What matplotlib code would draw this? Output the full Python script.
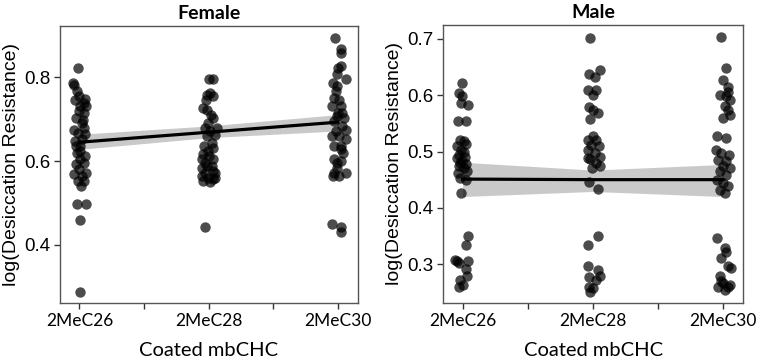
import numpy as np
import matplotlib
matplotlib.use('Agg')
import matplotlib.pyplot as plt

groups = ['2MeC26', '2MeC28', '2MeC30']

# Female: jitter offset from category centre, and log(desiccation resistance)
f26_dx = [-0.013, -0.049, -0.039, -0.021, -0.003, 0.046, 0.034, 0.008, 0.054, -0.005,
          0.034, -0.023, 0.021, 0.039, -0.013, -0.031, 0.021, 0.008, -0.018, 0.046,
          0.008, 0.034, -0.044, -0.005, 0.054, -0.013, 0.021, -0.018, 0.054, 0.008,
          0.008, -0.031, 0.028, -0.039, 0.003, -0.023, 0.039, 0.013, -0.028, 0.046]
f26_y = [0.822, 0.786, 0.783, 0.767, 0.755, 0.749, 0.738, 0.731, 0.731, 0.719,
         0.715, 0.703, 0.691, 0.679, 0.667, 0.648, 0.652, 0.636, 0.620, 0.612,
         0.605, 0.596, 0.568, 0.580, 0.572, 0.552, 0.564, 0.498, 0.498, 0.460,
         0.288, 0.747, 0.699, 0.675, 0.624, 0.592, 0.552, 0.540, 0.636, 0.664]

f28_dx = [0.005, 0.036, 0.010, 0.036, -0.010, -0.041, -0.015, 0.015, 0.036, -0.003,
          -0.028, 0.010, 0.049, -0.015, 0.023, 0.036, -0.003, -0.041, -0.054, 0.036,
          -0.028, -0.054, 0.023, -0.028, 0.036, -0.054, -0.003, 0.049, -0.041, 0.036,
          -0.028, 0.010, -0.015, 0.049, 0.005, -0.036, 0.062, -0.021]
f28_y = [0.797, 0.795, 0.762, 0.755, 0.759, 0.727, 0.722, 0.711, 0.703, 0.691,
         0.679, 0.671, 0.663, 0.659, 0.643, 0.631, 0.624, 0.616, 0.604, 0.604,
         0.596, 0.584, 0.588, 0.572, 0.576, 0.564, 0.560, 0.560, 0.552, 0.556,
         0.442, 0.550, 0.588, 0.572, 0.612, 0.636, 0.679, 0.747]

f30_dx = [-0.026, 0.026, 0.026, 0.021, 0.000, 0.059, -0.005, -0.036, -0.005, -0.018,
          -0.031, 0.008, -0.044, 0.021, 0.046, 0.000, -0.031, 0.034, 0.059, -0.018,
          -0.044, 0.059, 0.021, -0.031, 0.021, -0.031, -0.005, 0.021, 0.059, -0.031,
          -0.036, 0.008, -0.044, 0.021, 0.021, -0.010, 0.034, 0.008, 0.041, -0.005]
f30_y = [0.893, 0.867, 0.859, 0.827, 0.823, 0.797, 0.807, 0.787, 0.779, 0.767,
         0.751, 0.747, 0.731, 0.731, 0.703, 0.715, 0.695, 0.683, 0.675, 0.671,
         0.659, 0.653, 0.636, 0.636, 0.628, 0.604, 0.596, 0.600, 0.572, 0.572,
         0.564, 0.564, 0.450, 0.442, 0.430, 0.707, 0.715, 0.659, 0.620, 0.584]

# Male
m26_dx = [-0.005, -0.031, -0.005, -0.010, 0.041, -0.036, 0.026, -0.018, 0.008, 0.026,
          -0.044, -0.010, -0.031, 0.015, -0.044, -0.005, 0.026, -0.031, 0.008, -0.036,
          0.034, -0.018, 0.026, -0.010, 0.041, 0.026, -0.044, -0.031, 0.041, 0.026,
          0.034, -0.018, 0.000, -0.026, -0.057, 0.008, -0.021]
m26_y = [0.621, 0.604, 0.598, 0.586, 0.583, 0.555, 0.555, 0.521, 0.518, 0.514,
         0.509, 0.503, 0.494, 0.491, 0.488, 0.483, 0.477, 0.474, 0.471, 0.462,
         0.465, 0.453, 0.450, 0.427, 0.350, 0.334, 0.306, 0.302, 0.305, 0.291,
         0.278, 0.272, 0.263, 0.259, 0.307, 0.500, 0.480]

m28_dx = [-0.021, -0.026, 0.013, 0.052, -0.039, 0.026, 0.000, -0.026, 0.000, -0.021,
          0.039, 0.000, -0.039, 0.026, -0.013, 0.046, -0.039, 0.013, 0.052, -0.021,
          0.026, -0.039, 0.052, -0.005, -0.031, 0.039, -0.039, 0.039, -0.039, 0.039,
          -0.026, 0.021, 0.052, -0.031, 0.000, -0.021]
m28_y = [0.702, 0.637, 0.632, 0.645, 0.610, 0.609, 0.601, 0.579, 0.574, 0.558,
         0.568, 0.527, 0.521, 0.521, 0.512, 0.509, 0.503, 0.497, 0.491, 0.487,
         0.480, 0.488, 0.474, 0.471, 0.445, 0.433, 0.334, 0.350, 0.296, 0.290,
         0.277, 0.272, 0.278, 0.259, 0.257, 0.251]

m30_dx = [-0.013, 0.021, 0.000, 0.039, 0.039, -0.026, 0.026, 0.052, 0.013, 0.039,
          0.052, 0.000, -0.046, 0.021, -0.052, -0.013, 0.046, -0.039, 0.026, 0.000,
          0.052, -0.026, 0.021, -0.046, 0.000, 0.039, -0.026, 0.013, -0.046, 0.013,
          0.026, -0.013, 0.039, 0.057, -0.026, 0.000, 0.039, -0.039, 0.013, 0.052,
          -0.013]
m30_y = [0.703, 0.648, 0.627, 0.615, 0.605, 0.601, 0.598, 0.592, 0.581, 0.574,
         0.565, 0.560, 0.527, 0.524, 0.503, 0.497, 0.494, 0.485, 0.483, 0.474,
         0.471, 0.465, 0.459, 0.450, 0.444, 0.438, 0.432, 0.427, 0.346, 0.328,
         0.322, 0.311, 0.296, 0.293, 0.278, 0.266, 0.260, 0.260, 0.254, 0.263,
         0.269]

# Fitted line and confidence band at each category
fit_x = [1, 2, 3]
female_fit = [0.645, 0.669, 0.693]
female_lo = [0.628, 0.656, 0.672]
female_hi = [0.664, 0.684, 0.711]
male_fit = [0.451, 0.450, 0.450]
male_lo = [0.420, 0.429, 0.420]
male_hi = [0.481, 0.467, 0.477]

panels = [
    ('Female', [(f26_dx, f26_y), (f28_dx, f28_y), (f30_dx, f30_y)],
     female_fit, female_lo, female_hi, [0.4, 0.6, 0.8], (0.261, 0.922)),
    ('Male', [(m26_dx, m26_y), (m28_dx, m28_y), (m30_dx, m30_y)],
     male_fit, male_lo, male_hi, [0.3, 0.4, 0.5, 0.6, 0.7], (0.231, 0.725)),
]

fig = plt.figure(figsize=(7.6, 3.61), dpi=100)
rects = [[0.079, 0.161, 0.392, 0.766], [0.583, 0.161, 0.395, 0.770]]

for rect, (title, pts, fit, lo, hi, yticks, ylim) in zip(rects, panels):
    ax = fig.add_axes(rect)
    for i, (dx, y) in enumerate(pts):
        x = np.array(dx) + (i + 1)
        ax.scatter(x, y, s=56, color='black', alpha=0.7, linewidths=0, zorder=2)
    ax.fill_between(fit_x, lo, hi, color='#c0c0c0', alpha=0.85, linewidth=0, zorder=1)
    ax.plot(fit_x, fit, color='black', linewidth=2.3, zorder=3)

    ax.set_xlim(0.85, 3.155)
    ax.set_ylim(*ylim)
    ax.set_xticks([1, 1.5, 2, 2.5, 3])
    ax.set_xticklabels([groups[0], '', groups[1], '', groups[2]],
                       family='Lato', fontsize=12.5)
    ax.set_yticks(yticks)
    ax.set_yticklabels([f'{v:.1f}' for v in yticks], family='Liberation Sans',
                       fontsize=13.5)
    ax.tick_params(direction='out', length=4, width=1, color='#333333', pad=3)
    for sp in ax.spines.values():
        sp.set_color('#555555')
        sp.set_linewidth(1)
    ax.set_title(title, family='Lato', fontweight='bold', fontsize=14, pad=5)
    ax.set_xlabel('Coated mbCHC', family='Lato', fontsize=14.5, labelpad=10)
    ax.set_ylabel('log(Desiccation Resistance)', family='Liberation Sans',
                  fontsize=14, labelpad=3)

fig.savefig('out.png', dpi=100)
